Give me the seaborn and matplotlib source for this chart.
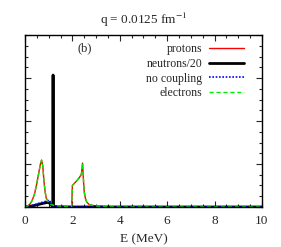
import matplotlib
matplotlib.use("Agg")
import matplotlib.pyplot as plt
from matplotlib.ticker import MultipleLocator, NullFormatter
import seaborn as sns

sns.set_theme(style="white")
plt.rcParams["font.family"] = ["Liberation Serif", "DejaVu Serif"]
plt.rcParams["mathtext.fontset"] = "stix"

# proton / electron response (identical curves)
e_p = [0.0, 0.1, 0.2, 0.3, 0.4, 0.5, 0.6, 0.65, 0.7, 0.75, 0.8, 0.85, 0.9, 1.0, 1.1,
       1.2, 1.3, 1.5, 1.8, 1.97, 2.0, 2.05, 2.1, 2.2, 2.3, 2.38, 2.43, 2.47, 2.5,
       2.55, 2.6, 2.7, 2.9, 3.2, 3.6, 4.0, 10.0]
s_p = [0.0, 0.02, 0.06, 0.15, 0.3, 0.55, 0.85, 1.0, 1.09, 0.95, 0.6, 0.35, 0.2, 0.1, 0.06,
       0.04, 0.03, 0.02, 0.01, 0.01, 0.5, 0.53, 0.56, 0.62, 0.69, 0.76, 1.02, 0.6, 0.35,
       0.2, 0.12, 0.06, 0.03, 0.015, 0.005, 0.0, 0.0]

# neutrons / 20
e_n = [0.0, 0.2, 0.5, 0.8, 1.0, 1.1, 1.15, 1.175, 1.185, 1.195, 1.25, 10.0]
s_n = [0.0, 0.01, 0.05, 0.09, 0.11, 0.05, 0.02, 0.02, 3.07, 0.0, 0.0, 0.0]

# no coupling
e_nc = [0.0, 0.2, 0.4, 0.6, 0.8, 1.0, 1.05, 1.1, 1.15, 10.0]
s_nc = [0.0, 0.02, 0.05, 0.09, 0.12, 0.15, 0.16, 0.05, 0.0, 0.0]

fig = plt.figure(figsize=(2.81, 2.47), dpi=100)
ax = fig.add_axes([0.089, 0.162, 0.843, 0.696])

sns.lineplot(x=e_p, y=s_p, ax=ax, color="#ff0000", lw=1.0, sort=False,
             estimator=None, label="protons")
sns.lineplot(x=e_n, y=s_n, ax=ax, color="black", lw=2.0, sort=False,
             estimator=None, label="neutrons/20")
sns.lineplot(x=e_nc, y=s_nc, ax=ax, color="#0000ff", lw=1.2, sort=False,
             estimator=None, label="no coupling", linestyle=(0, (1, 1)))
sns.lineplot(x=e_p, y=s_p, ax=ax, color="#00ee00", lw=1.0, sort=False,
             estimator=None, label="electrons", linestyle=(0, (3, 2)))

ax.set_xlim(0, 10)
ax.set_ylim(0, 4)
ax.xaxis.set_major_locator(MultipleLocator(2))
ax.xaxis.set_minor_locator(MultipleLocator(0.5))
ax.yaxis.set_major_locator(MultipleLocator(1))
ax.yaxis.set_minor_locator(MultipleLocator(0.25))
ax.yaxis.set_major_formatter(NullFormatter())
ax.tick_params(which="both", direction="in", top=True, right=True, left=True,
               bottom=True, labelsize=9.5, pad=6)
ax.tick_params(which="major", length=4, width=0.8)
ax.tick_params(which="minor", length=2, width=0.8)
for sp in ax.spines.values():
    sp.set_color("black")
    sp.set_linewidth(1.0)

ax.set_xlabel("E (MeV)", fontsize=9.5, labelpad=4)
ax.set_title("q = 0.0125 fm$^{-1}$", fontsize=9.5, pad=8)
ax.text(2.5, 3.7, "(b)", fontsize=9, ha="center", va="center")

ax.legend(loc="upper right", bbox_to_anchor=(0.958, 1.0), frameon=False,
          markerfirst=False, fontsize=8.5, handlelength=2.9, handletextpad=0.6,
          labelspacing=0.22, borderaxespad=0.3, borderpad=0.4)

fig.savefig("out.png", dpi=100)
